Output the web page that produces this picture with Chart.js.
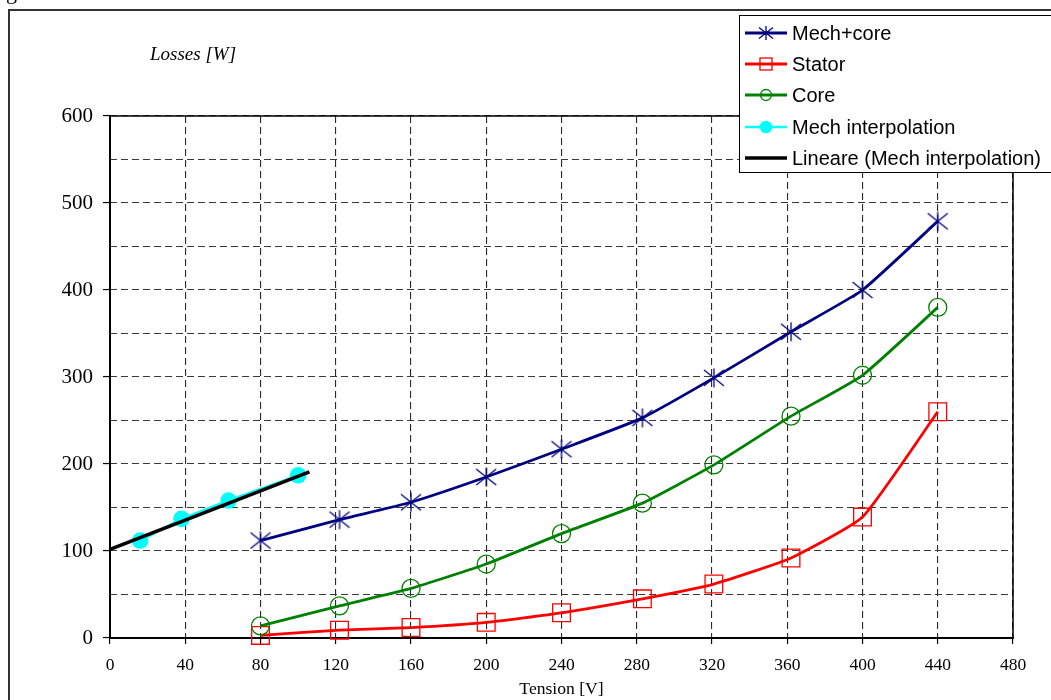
<!DOCTYPE html>
<html><head><meta charset="utf-8">
<script src="https://cdn.jsdelivr.net/npm/chart.js@4.4.1/dist/chart.umd.min.js"></script>
<style>html,body{margin:0;padding:0;background:#fff;} canvas{display:block;}</style>
</head><body>
<canvas id="c" width="1051" height="700"></canvas>
<script>
const seriesNames = ['Mech+core', 'Stator', 'Core', 'Mech interpolation', 'Lineare (Mech interpolation)'];
const voltage = [80, 122, 160, 200, 240, 283, 321, 362, 400, 440];
const mechCore = [112, 136, 156, 185, 217, 253, 299, 352, 400, 479];
const stator = [3, 9, 12, 18, 29, 45, 62, 92, 139, 260];
const core = [14, 37, 57, 85, 120, 155, 199, 255, 302, 380];
const mechInterpV = [16, 38, 63, 100];
const mechInterpW = [112, 137, 158, 187];
const trendV = [0, 106];
const trendW = [102, 191];
const xTickValues = [0, 40, 80, 120, 160, 200, 240, 280, 320, 360, 400, 440, 480];
const yGridValues = [0, 50, 100, 150, 200, 250, 300, 350, 400, 450, 500, 550, 600];
const yTickLabels = [0, 100, 200, 300, 400, 500, 600];
const xTitle = 'Tension [V]';
const yTitle = 'Losses [W]';

function toXY(xs, ys) { return xs.map((x, i) => ({x: x, y: ys[i]})); }

function starCanvas(size, color, lw, rv, dx, dy) {
  const c = document.createElement('canvas');
  c.width = size; c.height = size;
  const g = c.getContext('2d');
  g.strokeStyle = color; g.lineWidth = lw;
  const m = size / 2;
  g.beginPath();
  g.moveTo(m, m - rv); g.lineTo(m, m + rv);
  g.moveTo(m - dx, m - dy); g.lineTo(m + dx, m + dy);
  g.moveTo(m + dx, m - dy); g.lineTo(m - dx, m + dy);
  g.stroke();
  return c;
}
const starBig = starCanvas(22, '#000080', 1.3, 9.5, 10, 8);
const starSmall = starCanvas(16, '#000080', 1.3, 7, 7, 5.5);

const datasets = [
  {label: seriesNames[0], data: toXY(voltage, mechCore), borderColor: '#000080', borderWidth: 2.8,
   pointStyle: starBig, pointRadius: 10, tension: 0.15, clip: false, order: 3, legendMarker: 'star'},
  {label: seriesNames[1], data: toXY(voltage, stator), borderColor: '#ff0000', borderWidth: 2.8,
   pointStyle: 'rect', pointRadius: 12.5, pointBorderWidth: 1.3, pointBorderColor: '#ff0000',
   pointBackgroundColor: 'rgba(0,0,0,0)', tension: 0.15, clip: false, order: 4, legendMarker: 'rect'},
  {label: seriesNames[2], data: toXY(voltage, core), borderColor: '#008000', borderWidth: 2.8,
   pointStyle: 'circle', pointRadius: 9, pointBorderWidth: 1.3, pointBorderColor: '#008000',
   pointBackgroundColor: 'rgba(0,0,0,0)', tension: 0.15, clip: false, order: 2, legendMarker: 'circle'},
  {label: seriesNames[3], data: toXY(mechInterpV, mechInterpW), borderColor: '#00ffff', borderWidth: 2.5,
   pointStyle: 'circle', pointRadius: 8.3, pointBorderWidth: 0, pointBackgroundColor: '#00ffff',
   tension: 0, clip: false, order: 1, legendMarker: 'dot'},
  {label: seriesNames[4], data: toXY(trendV, trendW), borderColor: '#000000', borderWidth: 3.5,
   pointRadius: 0, tension: 0, clip: false, order: 0, legendMarker: 'none'}
];

const decor = {
  id: 'decor',
  beforeDraw(chart) {
    const ctx = chart.ctx;
    ctx.save(); ctx.fillStyle = '#fff'; ctx.fillRect(0, 0, chart.width, chart.height); ctx.restore();
  },
  beforeDatasetsDraw(chart) {
    const ctx = chart.ctx, a = chart.chartArea;
    ctx.save();
    ctx.strokeStyle = '#000';
    ctx.lineWidth = 1.5;
    ctx.beginPath();
    ctx.moveTo(a.left, a.top); ctx.lineTo(a.right, a.top); ctx.lineTo(a.right, a.bottom);
    ctx.stroke();
    ctx.lineWidth = 2;
    ctx.beginPath();
    ctx.moveTo(a.left, a.top - 1); ctx.lineTo(a.left, a.bottom); ctx.lineTo(a.right + 1, a.bottom);
    ctx.stroke();
    ctx.restore();
  },
  afterDraw(chart) {
    const ctx = chart.ctx;
    ctx.save();
    ctx.strokeStyle = '#333';
    ctx.lineWidth = 2;
    ctx.beginPath();
    ctx.moveTo(9, 702); ctx.lineTo(9, 10); ctx.lineTo(1053, 10);
    ctx.stroke();
    ctx.fillStyle = '#000';
    ctx.font = '22px "Liberation Serif"';
    ctx.textBaseline = 'alphabetic';
    ctx.textAlign = 'left';
    ctx.fillText('g', 6, -1);
    ctx.font = 'italic 19px "Liberation Serif"';
    ctx.textBaseline = 'middle';
    ctx.fillText(yTitle, 150, 55);
    const lx = 739, ly = 15, lw = 313, lh = 157;
    ctx.fillStyle = '#fff';
    ctx.fillRect(lx, ly, lw, lh);
    ctx.strokeStyle = '#000';
    ctx.lineWidth = 1;
    ctx.strokeRect(lx + 0.5, ly + 0.5, lw, lh);
    const rows = [33, 64, 95, 127, 158];
    chart.data.datasets.forEach((ds, i) => {
      const y = rows[i];
      ctx.strokeStyle = ds.borderColor;
      ctx.lineWidth = ds.borderWidth;
      ctx.beginPath(); ctx.moveTo(745, y); ctx.lineTo(787, y); ctx.stroke();
      const cx = 766;
      ctx.lineWidth = 1.3;
      if (ds.legendMarker === 'star') {
        ctx.drawImage(starSmall, cx - 8, y - 8);
      } else if (ds.legendMarker === 'rect') {
        ctx.strokeStyle = ds.borderColor;
        ctx.strokeRect(cx - 6, y - 6, 12, 12);
      } else if (ds.legendMarker === 'circle') {
        ctx.strokeStyle = ds.borderColor;
        ctx.beginPath(); ctx.arc(cx, y, 5.5, 0, Math.PI * 2); ctx.stroke();
      } else if (ds.legendMarker === 'dot') {
        ctx.fillStyle = ds.borderColor;
        ctx.beginPath(); ctx.arc(cx, y, 6.3, 0, Math.PI * 2); ctx.fill();
      }
      ctx.fillStyle = '#000';
      ctx.font = '20px "Liberation Sans"';
      ctx.textBaseline = 'middle';
      ctx.textAlign = 'left';
      ctx.fillText(ds.label, 792, y + 1);
    });
    ctx.restore();
  }
};

new Chart(document.getElementById('c'), {
  type: 'line',
  data: {datasets: datasets},
  options: {
    responsive: false,
    animation: false,
    devicePixelRatio: 1,
    layout: {padding: {left: 0, right: 38, top: 116, bottom: 0}},
    plugins: {legend: {display: false}, tooltip: {enabled: false}, title: {display: false}},
    scales: {
      x: {
        type: 'linear', min: 0, max: 480,
        afterFit: s => { s.height = 62; },
        afterBuildTicks: s => { s.ticks = xTickValues.map(v => ({value: v})); },
        ticks: {font: {family: 'Liberation Serif', size: 17.5}, color: '#000', padding: 11,
                maxRotation: 0, autoSkip: false},
        grid: {color: '#2a2a2a', lineWidth: 1.1, tickLength: 6, tickColor: '#000', tickWidth: 1.2},
        border: {display: false, dash: [7, 4]},
        title: {display: true, text: xTitle, font: {family: 'Liberation Serif', size: 17.6},
                color: '#000', padding: {top: 0, bottom: 0}}
      },
      y: {
        type: 'linear', min: 0, max: 600,
        afterFit: s => { s.width = 110; },
        afterBuildTicks: s => { s.ticks = yGridValues.map(v => ({value: v})); },
        ticks: {font: {family: 'Liberation Serif', size: 21}, color: '#000', padding: 10, autoSkip: false,
                callback: v => yTickLabels.includes(v) ? String(v) : ''},
        grid: {color: '#3a3a3a', lineWidth: 1.1, tickLength: 7, tickWidth: 1.2,
               tickColor: c => (c.tick && yTickLabels.includes(c.tick.value)) ? '#000' : 'rgba(0,0,0,0)'},
        border: {display: false, dash: [7, 4]}
      }
    }
  },
  plugins: [decor]
});
</script>
</body></html>
